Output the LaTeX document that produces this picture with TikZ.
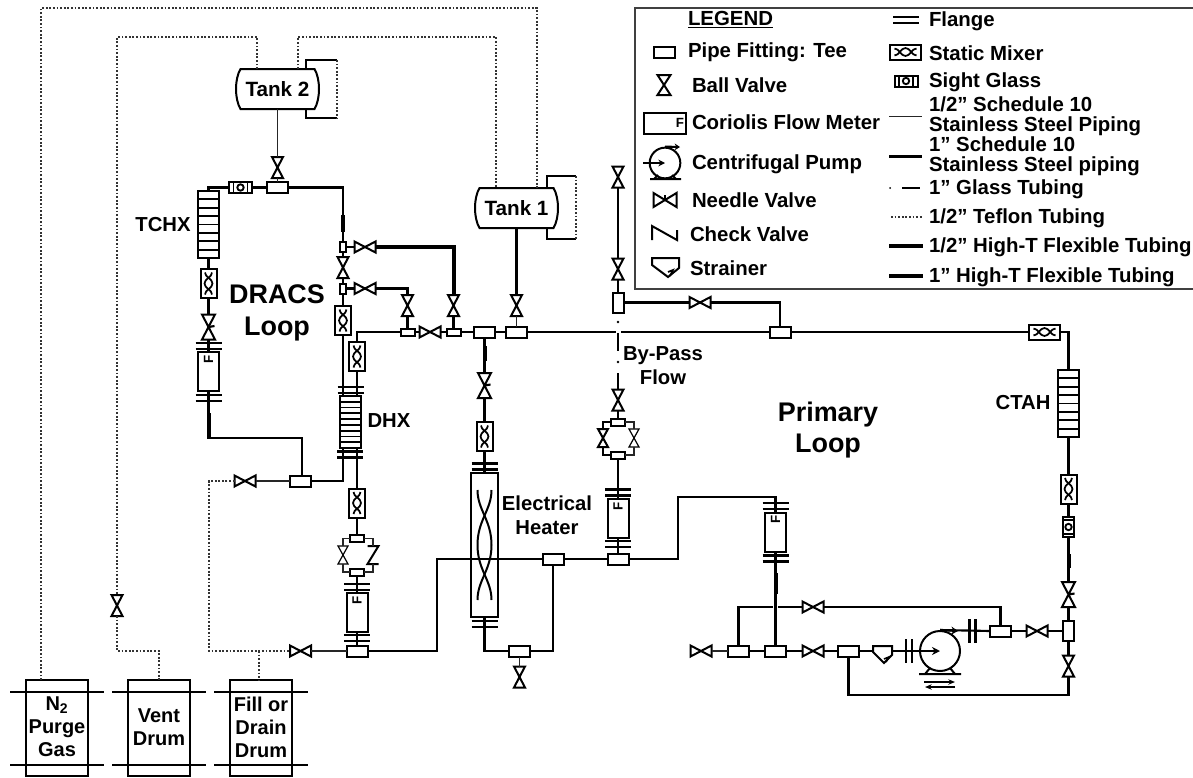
\documentclass[tikz,border=0pt]{standalone}
\usepackage{fontspec}
\setmainfont{Liberation Sans}
\usetikzlibrary{arrows.meta,calc}
\tikzset{
  box/.style 2 args={rectangle,minimum width=#1*0.75pt,minimum height=#2*0.75pt,inner sep=0pt,outer sep=0pt},
  sym/.style={line width=1.5pt,draw=black,fill=white,line join=miter},
  symthin/.style={line width=0.9pt,draw=black,fill=white},
  pipeT/.style={line width=1.1pt,draw=black!85},
  pipeM/.style={line width=1.6pt,draw=black},
  flexA/.style={line width=2.3pt,draw=black},
  flexB/.style={line width=3pt,draw=black},
  teflon/.style={line width=1.2pt,draw=black!80,dash pattern=on 1.4pt off 1.3pt},
  lbl/.style={inner sep=0pt,outer sep=0pt,align=center,font=\bfseries\fontsize{15.2}{18}\selectfont},
  lblbig/.style={inner sep=0pt,outer sep=0pt,align=center,font=\bfseries\fontsize{20.2}{23.5}\selectfont},
  lbllg/.style={inner sep=0pt,outer sep=0pt,align=left,anchor=west,font=\bfseries\fontsize{15.3}{15}\selectfont},
}
\newcommand\pTee[2]{\node[box={21}{11},sym] (#1) at (#2) {};}
\newcommand\pTeeS[2]{\node[box={14}{7},sym] (#1) at (#2) {};}
\newcommand\pTeeV[2]{\node[box={11}{20},sym] (#1) at (#2) {};}
\newcommand\pTeeN[2]{\node[box={6}{10},sym] (#1) at (#2) {};}
\newcommand\pVV[3][sym]{\node[box={11}{21}] (#2) at (#3) {};
  \draw[#1] (#2.north west)--(#2.north east)--(#2.south west)--(#2.south east)--cycle;}
\newcommand\pVS[3][sym]{\node[box={10}{18}] (#2) at (#3) {};
  \draw[#1] (#2.north west)--(#2.north east)--(#2.south west)--(#2.south east)--cycle;}
\newcommand\pVT[3][sym]{\node[box={13}{25}] (#2) at (#3) {};
  \draw[#1] (#2.north west)--(#2.north east)--(#2.south west)--(#2.south east)--cycle;
  \draw[line width=1.6pt] (#2.center) -- ++(6,-1);}
\newcommand\pHV[2]{\node[box={21}{11}] (#1) at (#2) {};
  \draw[sym] (#1.north west)--(#1.south west)--(#1.north east)--(#1.south east)--cycle;}
\newcommand\pMixV[2]{\node[box={16}{29},sym] (#1) at (#2) {};
  \begin{scope}[shift={(#2)},line width=1.3pt]
  \draw (-3.5,-11) .. controls (-3.5,-6) and (4,-5) .. (4,0) .. controls (4,5) and (-3.5,6) .. (-3.5,11);
  \draw (3.5,-11) .. controls (3.5,-6) and (-4,-5) .. (-4,0) .. controls (-4,5) and (3.5,6) .. (3.5,11);
  \end{scope}}
\newcommand\pMixH[2]{\node[box={31}{15},sym] (#1) at (#2) {};
  \begin{scope}[shift={(#2)},line width=1.3pt]
  \draw (-11,-3.5) .. controls (-6,-3.5) and (-5,4) .. (0,4) .. controls (5,4) and (6,-3.5) .. (11,-3.5);
  \draw (-11,3.5) .. controls (-6,3.5) and (-5,-4) .. (0,-4) .. controls (5,-4) and (6,3.5) .. (11,3.5);
  \end{scope}}
\newcommand\pSgH[2]{\node[box={23}{11},sym] (#1) at (#2) {};
  \begin{scope}[shift={(#2)},line width=1.3pt]
  \draw (-7,-5.5)--(-7,5.5) (7,-5.5)--(7,5.5); \draw[line width=1.4pt] (0,0) circle[radius=3.2];
  \end{scope}}
\newcommand\pSgV[2]{\node[box={11}{20},sym] (#1) at (#2) {};
  \begin{scope}[shift={(#2)},line width=1.3pt]
  \draw (-5.5,-7)--(5.5,-7) (-5.5,7)--(5.5,7); \draw[line width=1.4pt] (0,0) circle[radius=3.2];
  \end{scope}}
\newcommand\pHx[4]{\node[box={21}{#3},sym] (#1) at (#2) {};
  \begin{scope}[shift={(#2)},line width=1.4pt]
  \foreach \k in {1,...,#4} {\draw (-10.5,{-#3/2+\k*#3/(#4+1)})--(10.5,{-#3/2+\k*#3/(#4+1)});}
  \end{scope}}
\newcommand\pFl[2]{\node[box={26}{6}] (#1) at (#2) {};
  \draw[line width=1.6pt] (#1.north west)--(#1.north east) (#1.south west)--(#1.south east);}
\newcommand\pFlV[3]{\node[box={6}{#3}] (#1) at (#2) {};
  \draw[line width=1.6pt] (#1.north west)--(#1.south west) (#1.north east)--(#1.south east);}
\newcommand\pMeter[2]{\node[box={21}{39},sym] (#1) at (#2) {};
  \node[inner sep=0pt,rotate=90,font=\bfseries\fontsize{10}{10}\selectfont] (#1F) at ($(#2)+(0,-12.5)$) {F};}
\newcommand\pTank[3]{\node[box={83}{40}] (#1) at (#2) {};
  \begin{scope}[shift={(#2)}]
  \draw[sym,fill=none] (-37,-20)--(37,-20) .. controls (43,-10) and (43,10) .. (37,20)--(-37,20) .. controls (-43,10) and (-43,-10) .. (-37,-20)--cycle;
  \end{scope}
  \node[inner sep=0pt,font=\bfseries\fontsize{15.5}{17}\selectfont] (#1L) at (#2) {#3};}
\newcommand\pDrum[3]{\node[box={62}{96},draw=black,line width=1.5pt] (#1) at (#2) {};
  \begin{scope}[shift={(#2)}]
  \draw[line width=1.5pt] (-47,-36)--(47,-36) (-47,37)--(47,37);
  \end{scope}
  \node[lbl,font=\bfseries\fontsize{15}{17.3}\selectfont] (#1L) at ($(#2)+(0,-1)$) {#3};}
\begin{document}
\begin{tikzpicture}[x=0.75pt,y=-0.75pt]
\useasboundingbox (0,0) rectangle (1193,778);
\fill[white] (0,0) rectangle (1193,778);

% ---- legend
\draw[line width=1.2pt,draw=black!75] (1193,8)--(635,8)--(635,289)--(1193,289);
\node[lbllg] (lgA) at (688,20) {\underline{LEGEND}};
\node[lbllg] (lgB) at (688,52) {Pipe Fitting: Tee};
\node[lbllg] (lgC) at (692,85) {Ball Valve};
\node[lbllg] (lgD) at (692,122.5) {Coriolis Flow Meter};
\node[lbllg] (lgE) at (692,164) {Centrifugal Pump};
\node[lbllg] (lgF) at (692,200) {Needle Valve};
\node[lbllg] (lgG) at (690,234) {Check Valve};
\node[lbllg] (lgH) at (690,268) {Strainer};
\node[lbllg] (lgI) at (929,21) {Flange};
\node[lbllg] (lgJ) at (929,53) {Static Mixer};
\node[lbllg] (lgK) at (929,82) {Sight Glass};
\node[lbllg] (lgL) at (929,116) {1/2” Schedule 10\\Stainless Steel Piping};
\node[lbllg] (lgM) at (929,156.5) {1” Schedule 10\\Stainless Steel piping};
\node[lbllg] (lgN) at (929,189) {1” Glass Tubing};
\node[lbllg] (lgO) at (929,218) {1/2” Teflon Tubing};
\node[lbllg] (lgP) at (929,247) {1/2" High-T Flexible Tubing};
\node[lbllg] (lgQ) at (929,277) {1" High-T Flexible Tubing};
\pTee{lgTee}{664,52}
\node[box={13}{20}] (lgBV) at (664,85) {};
\draw[sym] (lgBV.north west)--(lgBV.north east)--(lgBV.south west)--(lgBV.south east)--cycle;
\node[box={42}{21},sym] (lgFM) at (664.5,123) {};
\node[inner sep=0pt,font=\bfseries\fontsize{10}{10}\selectfont] (lgFMF) at (680,123) {F};
\node[circle,draw=black,line width=1.5pt,minimum size=23pt,inner sep=0pt] (lgPump) at (665,163) {};
\coordinate (lgPi) at (643,163);
\coordinate (lgPo) at (680,147);
\draw[pipeM,-{Stealth[length=5pt,width=5pt]}] (lgPi) -- (lgPump.center);
\draw[pipeM,-{Stealth[length=4pt,width=5pt]}] (lgPump.north) -- (lgPo);
\draw[line width=1.5pt] (650,179)--(681,179) (654,179)--(658,175) (676,179)--(672,175);
\node[box={23}{14}] (lgNV) at (665,200) {};
\draw[sym] (lgNV.north west)--(lgNV.south west)--(lgNV.north east)--(lgNV.south east)--cycle;
\draw[line width=1.5pt] (lgNV.center) -- ++(0,-5);
\draw[line width=1.5pt] (652,240)--(652,226)--(677,240)--(677,230);
\draw[sym] (652,258)--(679,258)--(679,268)--(668,277)--(652,265)--cycle;
\draw[line width=1.3pt] (668,272)--(673,270)--(670,276);
\draw[line width=1.6pt] (893,17)--(919,17) (893,23)--(919,23);
\pMixH{lgMix}{905.5,52}
\pSgH{lgSg}{906,81}
\draw[pipeT] (889,116.5)--(922,116.5);
\draw[pipeM] (889,156.5)--(922,156.5);
\draw[line width=1.5pt] (902,188)--(920,188);
\fill (890,188) circle[radius=1];
\draw[teflon] (891,217)--(923,217);
\draw[flexA] (889,246)--(923,246);
\draw[flexB] (889,276)--(923,276);

% ---- tanks and drums
\pTank{tankB}{277.5,89}{Tank 2}
\pTank{tankA}{516.5,208}{Tank 1}
\pDrum{drumA}{57,728}{N\textsubscript{2}\\Purge\\Gas}
\pDrum{drumB}{159,728}{Vent\\Drum}
\pDrum{drumC}{261,728}{Fill or\\Drain\\Drum}

% ---- DRACS loop symbols
\pVV{vTop}{277.5,167.5}
\pTee{teeTop}{277.5,187.5}
\pSgH{sgT}{240.5,187.5}
\pHx{tchx}{208.5,224.5}{67}{7}
\pMixV{mixT}{208.5,283.5}
\pVT{vT}{208.5,327}
\pFl{flT1}{208.5,346}
\pMeter{mtT}{208.5,371.5}
\pFl{flT2}{208.5,398}
\pTeeN{teeU}{343,247}
\pHV{vA}{365,247}
\pVV{vB}{453.5,305.5}
\pVV{vC}{343,267.5}
\pTeeN{teeL}{343,288.5}
\pHV{vD}{365,288.5}
\pVV{vE}{407.5,305.5}
\pTeeS{tsB}{407.5,332}
\pHV{vF}{430,332}
\pTeeS{tsA}{453.5,332}
\pMixV{mixA}{343,320.5}
\pMixV{mixB}{357,356.5}
\pFl{flD1}{350.5,390}
\pHx{dhx}{350,422}{52}{8}
\pFl{flD2}{350,454.5}
\pTee{teeR}{300,481}
\pHV{vG}{245,481}
\pMixV{mixC}{357,503}
\pTeeS{tsC}{357,538.5}
\pTeeS{tsD}{357,572}
\pVS[symthin]{vI}{343,555}
\node[box={11}{18}] (chk) at (373,555) {};
\draw[line width=1.5pt] (chk.north west)--(chk.north east)--(chk.south west)--(chk.south east);
\pFl{flM1}{357,587}
\pMeter{mtD}{357,612.5}
\pFl{flM2}{357,638}
\pTee{teeS}{357,651}
\pHV{vH}{300.5,651}
\pVV{vVent}{117,605.5}

% ---- heater column
\pTee{teeM}{484.5,332}
\pTee{teeN}{516.5,332}
\pVV{vTA}{516.5,305.5}
\pVT{vJ}{484.5,385.5}
\pMixV{mixH}{484.5,436.5}
\pFl{flH1}{484.5,466.5}
\node[box={27}{144},sym] (heater) at (484.5,545) {};
\pFl{flH2}{484.5,624}
\pTee{teeF}{519.5,651}
\pVV{vK}{519.5,677}
\pTee{teeE}{553,559}
\pTee{teeG}{618,559}

% ---- by-pass
\pVV{vP}{618,177}
\pVV{vO}{618,269}
\pTeeV{teeV}{618,302.5}
\pHV{vQ}{700,302.5}
\pTee{teeW}{780,332}
\pVV{vN}{618,400}
\pTeeS{tsF}{618,422}
\pVS{vL}{603,438}
\pVS[symthin]{vM}{634,438}
\pTeeS{tsG}{618,455}
\pFl{flB1}{618,492.5}
\pMeter{mtB}{618,518.5}
\pFl{flB2}{618,544}

% ---- primary loop right side
\pMixH{mixP}{1044.5,332}
\pHx{ctah}{1068.5,403.5}{67}{7}
\pMixV{mixQ}{1068.5,489}
\pSgV{sgC}{1068.5,527}
\pVT{vR}{1068.5,594.5}
\pTeeV{teeX}{1068.5,631}
\pVV{vS}{1068.5,666}
\pHV{vU}{1037,631}
\pTee{teeQ}{1000.5,631}
\pHV{vV}{813,607}
\pFl{flP1}{775.5,506}
\pMeter{mtP}{775.5,532}
\pFl{flP2}{775.5,558.5}
\pTee{teeH}{775.5,651}
\pTee{teeA}{738.5,651}
\pHV{vW}{701,651}
\pHV{vX}{813,651}
\pTee{teeP}{848.5,651}
\node[box={19}{10}] (str) at (882.5,651) {};
\draw[sym] (873,646)--(892,646)--(892,655)--(884,663)--(873,652)--cycle;
\draw[line width=1.2pt] (884,659)--(889,657)--(886,662);
\pFlV{fpA}{909,651}{24}
\node[circle,draw=black,line width=1.5pt,minimum size=30pt,inner sep=0pt] (pump) at (940,651) {};
\draw[line width=1.5pt] (919,674)--(961,674) (925,674)--(930,668) (955,674)--(950,668);
\pFlV{fpB}{972.5,631}{24}
\coordinate (pumpTip) at (958,631);

% ---- pipes: DRACS
\draw[pipeT] (tankB.south) -- (vTop.north);
\draw[pipeT] (vTop.south) -- (teeTop.north);
\draw[pipeM] (teeTop.west) -- (sgT.east);
\draw[pipeM] (sgT.west) -| (tchx.north);
\draw[pipeM] (teeTop.east) -| (teeU.north);
\draw[flexB] (343,215) -- (343,232);
\draw[pipeM] (tchx.south) -- (mixT.north);
\draw[pipeM] (mixT.south) -- (vT.north);
\draw[pipeM] (vT.south) -- (mtT.north);
\coordinate (cTa) at (208.5,438);
\coordinate (cTb) at (302,438);
\draw[pipeM] (mtT.south) -- (cTa) -- (cTb) -- (cTb |- teeR.north);
\draw[flexB] (208.5,413) -- (cTa);
\draw[pipeM] (teeU.east) -- (vA.west);
\draw[flexB] (vA.east) -| (vB.north);
\draw[pipeM] (vB.south) -- (tsA.north);
\draw[pipeM] (teeU.south) -- (vC.north);
\draw[pipeM] (vC.south) -- (teeL.north);
\draw[pipeM] (teeL.south) -- (mixA.north);
\draw[pipeM] (teeL.east) -- (vD.west);
\draw[flexA] (vD.east) -| (vE.north);
\draw[flexA] (vE.south) -- (tsB.north);
\draw[pipeM] (tsB.west) -| (mixB.north);
\draw[pipeM] (tsB.east) -- (vF.west);
\draw[pipeM] (vF.east) -- (tsA.west);
\draw[pipeM] (tsA.east) -- (teeM.west);
\draw[pipeM] (teeM.east) -- (teeN.west);
\draw[pipeM] (mixA.south) -- (mixA.south |- dhx.north);
\draw[pipeM] (mixB.south) -- (mixB.south |- dhx.north);
\draw[pipeM] (teeR.east) -| (mixA.south |- dhx.south);
\draw[pipeT] (teeR.west) -- (vG.east);
\coordinate (dA) at (209,481);
\coordinate (dB) at (209,651);
\coordinate (dC) at (259,651);
\draw[teflon] (vG.west) -- (dA) -- (dB) -- (vH.west);
\draw[teflon] (dC) -- (dC |- drumC.north);
\draw[pipeT] (vH.east) -- (teeS.west);
\draw[pipeM] (mixB.south |- dhx.south) -- (mixC.north);
\draw[pipeM] (mixC.south) -- (tsC.north);
\draw[pipeT] (tsC.west) -| (vI.north);
\draw[pipeT] (vI.south) |- (tsD.west);
\draw[pipeT] (tsC.east) -| (chk.north);
\draw[pipeT] (chk.south) |- (tsD.east);
\draw[pipeM] (tsD.south) -- (mtD.north);
\draw[pipeM] (mtD.south) -- (teeS.north);
\coordinate (cHa) at (437,651);
\coordinate (cHb) at (437,559);
\draw[pipeM] (teeS.east) -- (cHa) -- (cHb) -- (teeE.west);

% ---- pipes: heater
\draw[pipeM] (teeM.south) -- (vJ.north);
\draw[flexB] (484.5,346) -- (484.5,361);
\draw[pipeM] (vJ.south) -- (mixH.north);
\draw[pipeM] (mixH.south) -- (heater.north);
\draw[pipeM] (heater.south) |- (teeF.west);
\draw[pipeM] (teeF.east) -| (teeE.south);
\draw[pipeT] (teeF.south) -- (vK.north);
\draw[pipeM] (teeE.east) -- (teeG.west);
\begin{scope}[shift={(484.5,545)},line width=1.5pt]
\draw (-7,-55) .. controls (-7,-35) and (7,-25) .. (7,0) .. controls (7,25) and (-7,35) .. (-7,55);
\draw (7,-55) .. controls (7,-35) and (-7,-25) .. (-7,0) .. controls (-7,25) and (7,35) .. (7,55);
\end{scope}
\draw[flexA] (tankA.south) -- (vTA.north);
\draw[pipeT] (vTA.south) -- (teeN.north);

% ---- pipes: main line and by-pass
\coordinate (gA) at (616,332);
\coordinate (gB) at (621,332);
\draw[pipeM] (teeN.east) -- (gA);
\draw[pipeM] (gB) -- (teeW.west);
\draw[pipeM] (teeW.east) -- (mixP.west);
\draw[pipeM] (mixP.east) -| (ctah.north);
\draw[pipeM] (vO.north) -- (vP.south);
\draw[pipeM] (teeV.north) -- (vO.south);
\draw[pipeM] (teeV.east) -- (vQ.west);
\draw[pipeM] (vQ.east) -| (teeW.north);
\coordinate (byA) at (618,333);
\coordinate (byB) at (618,351);
\coordinate (byC) at (618,373);
\fill (618,322) circle[radius=1.3];
\fill (618,362) circle[radius=1.3];
\draw[line width=1.5pt] (byA) -- (byB);
\draw[line width=1.5pt] (byC) -- (vN.north);
\draw[pipeM] (vN.south) -- (tsF.north);
\draw[pipeM] (tsF.west) -| (vL.north);
\draw[pipeM] (vL.south) |- (tsG.west);
\draw[pipeT] (tsF.east) -| (vM.north);
\draw[pipeT] (vM.south) |- (tsG.east);
\draw[pipeM] (tsG.south) -- (mtB.north);
\draw[pipeM] (mtB.south) -- (teeG.north);
\coordinate (pA) at (678,559);
\coordinate (pB) at (678,497);
\draw[pipeM] (teeG.east) -- (pA) -- (pB) -- (pB -| mtP.north) -- (mtP.north);
\draw[pipeM] (ctah.south) -- (mixQ.north);
\draw[pipeM] (mixQ.south) -- (sgC.north);
\draw[pipeM] (sgC.south) -- (vR.north);
\draw[flexB] (1068.5,554) -- (1068.5,568);
\draw[pipeM] (vR.south) -- (teeX.north);
\draw[pipeM] (teeX.south) -- (vS.north);
\coordinate (cB) at (848.5,695);
\draw[pipeM] (vS.south) |- (cB) -- (teeP.south);
\draw[pipeM] (teeX.west) -- (vU.east);
\draw[pipeM] (vU.west) -- (teeQ.east);
\draw[pipeM] (teeQ.north) |- (vV.east);
\draw[pipeM] (vV.west) -| (teeA.north);
\draw[line width=3.5pt,white] (775.5,603) -- (775.5,611);
\draw[pipeM] (mtP.south) -- (teeH.north);
\draw[flexB] (775.5,573) -- (775.5,594);
\draw[pipeT] (teeA.west) -- (vW.east);
\draw[pipeM] (teeA.east) -- (teeH.west);
\draw[pipeM] (teeH.east) -- (vX.west);
\draw[pipeM] (vX.east) -- (teeP.west);
\draw[pipeM] (teeP.east) -- (str.west);
\draw[pipeM,-{Stealth[length=6pt,width=6pt]}] (str.east) -- (pump.center);
\draw[pipeM] (pump.north) -- (teeQ.west);
\draw[pipeM,-{Stealth[length=5pt,width=6pt]}] (pump.north) -- (pumpTip);
\coordinate (arA) at (924,682);
\coordinate (arB) at (955,682);
\coordinate (arC) at (955,687);
\coordinate (arD) at (925,687);
\draw[line width=0.9pt,-{Stealth[length=5pt,width=4pt]}] (arA) -- (arB);
\draw[line width=0.9pt,-{Stealth[length=5pt,width=4pt]}] (arC) -- (arD);

% ---- teflon lines and tank side loops
\coordinate (nA) at (41,8);
\coordinate (nB) at (537,8);
\draw[teflon] (41,680) -- (nA) -- (nB) -- (nB |- tankA.north);
\coordinate (tA) at (257,37);
\coordinate (tB) at (117,37);
\coordinate (tC) at (117,651);
\coordinate (tD) at (159,651);
\draw[teflon] (257,69) -- (tA) -- (tB) -- (vVent.north);
\draw[teflon] (vVent.south) -- (tC) -- (tD) -- (tD |- drumB.north);
\coordinate (tE) at (298,37);
\coordinate (tF) at (496,37);
\draw[teflon] (298,69) -- (tE) -- (tF) -- (tF |- tankA.north);
\coordinate (sA) at (306,60);
\coordinate (sB) at (337,60);
\coordinate (sC) at (337,118);
\coordinate (sD) at (306,118);
\draw[pipeM] (306,69) -- (sA) -- (sB);
\draw[pipeM] (sC) -- (sD) -- (306,109);
\draw[teflon] (sB) -- (sC);
\coordinate (uA) at (547,176);
\coordinate (uB) at (576,176);
\coordinate (uC) at (576,239);
\coordinate (uD) at (547,239);
\draw[pipeM] (547,188) -- (uA) -- (uB);
\draw[pipeM] (uC) -- (uD) -- (547,228);
\draw[teflon] (uB) -- (uC);

% ---- labels
\node[lbl] (lTchx) at (163,225) {TCHX};
\node[lbl] (lDhx) at (389,421) {DHX};
\node[lblbig] (lDracs) at (277,313) {DRACS\\Loop};
\node[lbl] (lBy) at (663,366) {By-Pass\\Flow};
\node[lbl] (lEh) at (547,515) {Electrical\\Heater};
\node[lblbig] (lPrim) at (828,430) {Primary\\Loop};
\node[lbl] (lCtah) at (1023,403) {CTAH};
\end{tikzpicture}
\end{document}
